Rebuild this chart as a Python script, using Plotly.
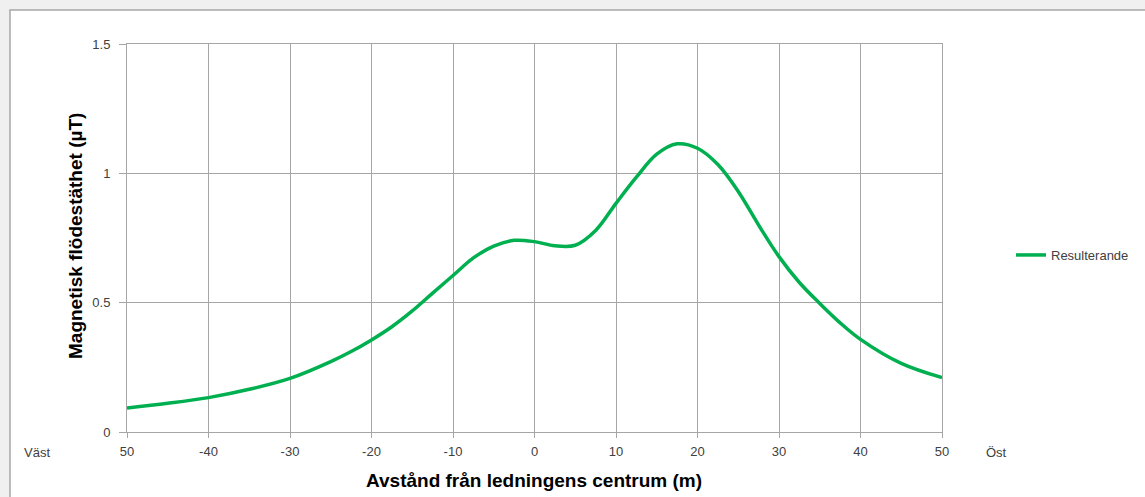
import plotly.graph_objects as go

# Distance from the line centre (m) and resulting magnetic flux density (µT)
distance_m = [-50, -45, -40, -35, -30, -25, -22.5, -20, -17.5, -15, -12.5, -10,
              -7.5, -5, -2.5, 0, 2.5, 5, 7.5, 10, 12.5, 15, 17.5, 20, 22.5, 25,
              27.5, 30, 32.5, 35, 37.5, 40, 45, 50]
flux_uT = [0.093, 0.111, 0.133, 0.165, 0.207, 0.272, 0.311, 0.356, 0.407, 0.468,
           0.537, 0.605, 0.673, 0.719, 0.741, 0.736, 0.720, 0.722, 0.779, 0.884,
           0.985, 1.074, 1.114, 1.097, 1.034, 0.930, 0.800, 0.678, 0.578, 0.497,
           0.422, 0.358, 0.265, 0.210]
series_name = "Resulterande"

x_tickvals = [-50, -40, -30, -20, -10, 0, 10, 20, 30, 40, 50]
x_ticktext = ["50", "-40", "-30", "-20", "-10", "0", "10", "20", "30", "40", "50"]
y_tickvals = [0, 0.5, 1, 1.5]
y_ticktext = ["0", "0.5", "1", "1.5"]

W, H = 1145, 497
L, R, T, B = 127, 203, 44, 65
pw, ph = W - L - R, H - T - B


def px_x(px):
    return (px - L) / pw


def px_y(py):
    return (H - B - py) / ph


FONT = "Liberation Sans"
GRID = "#a6a6a6"
TICK_FONT = dict(family=FONT, size=13, color="#404040")

fig = go.Figure()
fig.add_trace(go.Scatter(
    x=distance_m, y=flux_uT, mode="lines", name=series_name,
    line=dict(color="#00b050", width=3.5, shape="spline", smoothing=1.0),
))

fig.update_layout(
    width=W, height=H,
    margin=dict(l=L, r=R, t=T, b=B, autoexpand=False),
    paper_bgcolor="#f0f0f0",
    plot_bgcolor="white",
    showlegend=True,
    legend=dict(x=px_x(1011), y=px_y(255), xanchor="left", yanchor="middle",
                bgcolor="rgba(0,0,0,0)", font=dict(family=FONT, size=13, color="#404040"),
                itemwidth=30),
    shapes=[dict(type="rect", xref="paper", yref="paper", layer="below",
                 x0=px_x(10), x1=px_x(1160), y0=px_y(510), y1=px_y(10),
                 fillcolor="white", line=dict(color="#a6a6a6", width=1.5))],
    annotations=[
        dict(text="<b>Magnetisk flödestäthet (µT)</b>", xref="paper", yref="paper",
             x=px_x(75), y=px_y(236), xanchor="center", yanchor="middle",
             textangle=-90, showarrow=False,
             font=dict(family=FONT, size=19, color="black")),
        dict(text="<b>Avstånd från ledningens centrum (m)</b>", xref="paper", yref="paper",
             x=px_x(534), y=px_y(480), xanchor="center", yanchor="middle",
             showarrow=False, font=dict(family=FONT, size=19, color="black")),
        dict(text="Väst", xref="paper", yref="paper", x=px_x(37), y=px_y(452),
             xanchor="center", yanchor="middle", showarrow=False, font=TICK_FONT),
        dict(text="Öst", xref="paper", yref="paper", x=px_x(996), y=px_y(452),
             xanchor="center", yanchor="middle", showarrow=False, font=TICK_FONT),
    ],
)

fig.update_xaxes(
    range=[-50, 50], tickvals=x_tickvals, ticktext=x_ticktext,
    showgrid=True, gridcolor=GRID, gridwidth=1,
    showline=True, linecolor=GRID, linewidth=1, mirror=True,
    ticks="outside", ticklen=5, tickcolor=GRID, ticklabelstandoff=2,
    tickfont=TICK_FONT, zeroline=False,
)
fig.update_yaxes(
    range=[0, 1.5], tickvals=y_tickvals, ticktext=y_ticktext,
    showgrid=True, gridcolor=GRID, gridwidth=1,
    showline=True, linecolor=GRID, linewidth=1, mirror=True,
    ticks="outside", ticklen=7, tickcolor=GRID, ticklabelstandoff=6,
    tickfont=TICK_FONT, zeroline=False,
)

fig.write_html("out.html")
